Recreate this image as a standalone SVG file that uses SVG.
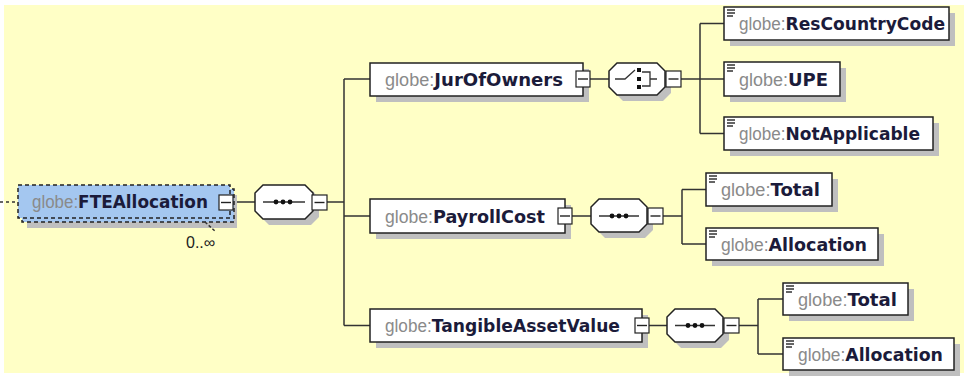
<svg xmlns="http://www.w3.org/2000/svg" width="968" height="377" viewBox="0 0 968 377">
<defs>
<style>
.bg{fill:#ffffc6}
.box{fill:#fff;stroke:#222;stroke-width:1.5}
.sh{fill:#bfbfbf}
.ln{stroke:#333;stroke-width:1.5;fill:none}
.mb{fill:#fff;stroke:#222;stroke-width:1.2}
.mm{stroke:#222;stroke-width:1.4}
.ic{stroke:#333;stroke-width:1.3}
.dot{fill:#111}
text{font-family:"DejaVu Sans","Liberation Sans",sans-serif;font-size:18px}
.pf{fill:#8a8a8a;font-weight:normal;font-family:"Liberation Sans",Arial,sans-serif}
.nm{fill:#1b1b3a;font-weight:bold}
.multi{fill:#a4c7f0;stroke:#222;stroke-width:1.5;stroke-dasharray:4,3}
</style>
</defs>
<rect class="bg" x="4" y="5" width="960" height="368"/>

<g id="connectors">
<path class="ln" d="M0,202 H18" stroke-dasharray="3,3"/>
<path class="ln" d="M233,202 H255 M327,202 H344 M344,79 V325.5 M344,79 H370 M344,216 H370 M344,325.5 H370"/>
<path class="ln" d="M590,79 H609 M681,79 H700 M700,23.5 V133.5 M700,23.5 H724 M700,79 H724 M700,133.5 H724"/>
<path class="ln" d="M572,216 H591 M663,216 H682 M682,189.5 V244 M682,189.5 H706 M682,244 H706"/>
<path class="ln" d="M649,325.5 H667 M739,325.5 H758 M758,299 V354 M758,299 H783 M758,354 H783"/>
</g>

<g id="FTEAllocation">
<rect class="sh" x="27" y="195" width="210" height="33"/>
<rect class="multi" x="22" y="189" width="212" height="33"/>
<rect class="multi" x="18" y="185" width="212" height="33"/>
<path class="ln" d="M205,222 L216,232" stroke-dasharray="3,2" stroke-width="1.4"/>
<rect class="mb" x="219" y="195" width="14" height="15"/>
<line class="mm" x1="221" y1="202.5" x2="231" y2="202.5"/>
<text x="32" y="208" textLength="176" lengthAdjust="spacingAndGlyphs"><tspan class="pf">globe:</tspan><tspan class="nm">FTEAllocation</tspan></text>
<text x="186" y="248" style="font-family:'Liberation Sans',sans-serif;font-size:16px;fill:#222">0..∞</text>
</g>

<g id="seq1">
<path class="sh" d="M269,191 H313 L319,199 V217 L311,225 H269 L261,217 V199 Z"/>
<path class="box" d="M263,185 H305 L313,193 V211 L305,219 H263 L255,211 V193 Z"/>
<line class="ic" x1="263" y1="202" x2="305" y2="202"/>
<circle class="dot" cx="276" cy="202" r="2.4"/><circle class="dot" cx="283" cy="202" r="2.4"/><circle class="dot" cx="290" cy="202" r="2.4"/>
<rect class="mb" x="312" y="195" width="15" height="15"/>
<line class="mm" x1="314.5" y1="202.5" x2="324.5" y2="202.5"/>
</g>

<g id="JurOfOwners">
<rect class="sh" x="376" y="69" width="213" height="33"/>
<rect class="box" x="370" y="63" width="213" height="33"/>
<rect class="mb" x="576" y="71" width="14" height="16"/>
<line class="mm" x1="578" y1="79" x2="588" y2="79"/>
<text x="385" y="85.5" textLength="178" lengthAdjust="spacingAndGlyphs"><tspan class="pf">globe:</tspan><tspan class="nm">JurOfOwners</tspan></text>
</g>

<g id="choice1">
<path class="sh" d="M623,69 H663 L671,77 V93 L663,101 H623 L615,93 V77 Z"/>
<path class="box" d="M617,63 H657 L665,71 V87 L657,95 H617 L609,87 V71 Z"/>
<path class="ic" d="M615,79 H625 L635,70 M642,72 H650 V86 H642 M650,79 H657" fill="none"/>
<rect class="dot" x="637" y="68" width="4" height="4"/>
<rect class="dot" x="637" y="77" width="4" height="4"/>
<rect class="dot" x="637" y="85" width="4" height="4"/>
<rect class="mb" x="666" y="71" width="15" height="16"/>
<line class="mm" x1="668.5" y1="79" x2="678.5" y2="79"/>
</g>

<g id="ResCountryCode">
<rect class="sh" x="730" y="13" width="225" height="33"/>
<rect class="box" x="724" y="7" width="225" height="33"/>
<path class="ic" d="M727,10 H735 M727,13 H735 M727,16 H733"/>
<text x="739" y="30" textLength="206" lengthAdjust="spacingAndGlyphs"><tspan class="pf">globe:</tspan><tspan class="nm">ResCountryCode</tspan></text>
</g>

<g id="UPE">
<rect class="sh" x="730" y="68" width="116" height="34"/>
<rect class="box" x="724" y="62" width="116" height="34"/>
<path class="ic" d="M727,65 H735 M727,68 H735 M727,71 H733"/>
<text x="739" y="85.5" textLength="89" lengthAdjust="spacingAndGlyphs"><tspan class="pf">globe:</tspan><tspan class="nm">UPE</tspan></text>
</g>

<g id="NotApplicable">
<rect class="sh" x="730" y="123" width="209" height="33"/>
<rect class="box" x="724" y="117" width="209" height="33"/>
<path class="ic" d="M727,120 H735 M727,123 H735 M727,126 H733"/>
<text x="739" y="140" textLength="181" lengthAdjust="spacingAndGlyphs"><tspan class="pf">globe:</tspan><tspan class="nm">NotApplicable</tspan></text>
</g>

<g id="PayrollCost">
<rect class="sh" x="376" y="205" width="195" height="34"/>
<rect class="box" x="370" y="199" width="195" height="34"/>
<rect class="mb" x="558" y="208" width="14" height="16"/>
<line class="mm" x1="560" y1="216" x2="570" y2="216"/>
<text x="385" y="222.5" textLength="160" lengthAdjust="spacingAndGlyphs"><tspan class="pf">globe:</tspan><tspan class="nm">PayrollCost</tspan></text>
</g>

<g id="seq2">
<path class="sh" d="M605,205 H645 L653,213 V230 L645,238 H605 L597,230 V213 Z"/>
<path class="box" d="M599,199 H639 L647,207 V224 L639,232 H599 L591,224 V207 Z"/>
<line class="ic" x1="599" y1="216" x2="639" y2="216"/>
<circle class="dot" cx="612" cy="216" r="2.4"/><circle class="dot" cx="619" cy="216" r="2.4"/><circle class="dot" cx="626" cy="216" r="2.4"/>
<rect class="mb" x="648" y="208" width="15" height="16"/>
<line class="mm" x1="650.5" y1="216" x2="660.5" y2="216"/>
</g>

<g id="PayrollTotal">
<rect class="sh" x="712" y="179" width="126" height="33"/>
<rect class="box" x="706" y="173" width="126" height="33"/>
<path class="ic" d="M709,176 H717 M709,179 H717 M709,182 H715"/>
<text x="721" y="196" textLength="99" lengthAdjust="spacingAndGlyphs"><tspan class="pf">globe:</tspan><tspan class="nm">Total</tspan></text>
</g>

<g id="PayrollAllocation">
<rect class="sh" x="712" y="234" width="172" height="32"/>
<rect class="box" x="706" y="228" width="172" height="32"/>
<path class="ic" d="M709,231 H717 M709,234 H717 M709,237 H715"/>
<text x="721" y="250.5" textLength="146" lengthAdjust="spacingAndGlyphs"><tspan class="pf">globe:</tspan><tspan class="nm">Allocation</tspan></text>
</g>

<g id="TangibleAssetValue">
<rect class="sh" x="376" y="315" width="272" height="33"/>
<rect class="box" x="370" y="309" width="272" height="33"/>
<rect class="mb" x="635" y="318" width="14" height="15"/>
<line class="mm" x1="637" y1="325.5" x2="647" y2="325.5"/>
<text x="385" y="332" textLength="235" lengthAdjust="spacingAndGlyphs"><tspan class="pf">globe:</tspan><tspan class="nm">TangibleAssetValue</tspan></text>
</g>

<g id="seq3">
<path class="sh" d="M681,315 H721 L729,323 V340 L721,348 H681 L673,340 V323 Z"/>
<path class="box" d="M675,309 H715 L723,317 V334 L715,342 H675 L667,334 V317 Z"/>
<line class="ic" x1="675" y1="325.5" x2="715" y2="325.5"/>
<circle class="dot" cx="688" cy="325.5" r="2.4"/><circle class="dot" cx="695" cy="325.5" r="2.4"/><circle class="dot" cx="702" cy="325.5" r="2.4"/>
<rect class="mb" x="724" y="318" width="15" height="15"/>
<line class="mm" x1="726.5" y1="325.5" x2="736.5" y2="325.5"/>
</g>

<g id="TangibleTotal">
<rect class="sh" x="789" y="289" width="125" height="32"/>
<rect class="box" x="783" y="283" width="125" height="32"/>
<path class="ic" d="M786,286 H794 M786,289 H794 M786,292 H792"/>
<text x="798" y="305.5" textLength="99" lengthAdjust="spacingAndGlyphs"><tspan class="pf">globe:</tspan><tspan class="nm">Total</tspan></text>
</g>

<g id="TangibleAllocation">
<rect class="sh" x="789" y="344" width="171" height="32"/>
<rect class="box" x="783" y="338" width="171" height="32"/>
<path class="ic" d="M786,341 H794 M786,344 H794 M786,347 H792"/>
<text x="798" y="360.5" textLength="145" lengthAdjust="spacingAndGlyphs"><tspan class="pf">globe:</tspan><tspan class="nm">Allocation</tspan></text>
</g>
</svg>
